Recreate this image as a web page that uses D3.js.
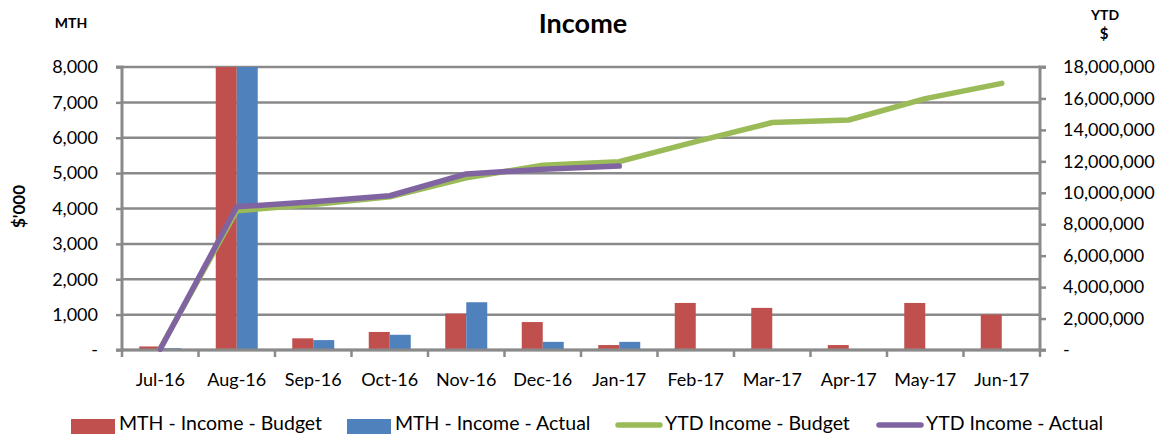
<!DOCTYPE html>
<html>
<head>
<meta charset="utf-8">
<script src="https://cdn.jsdelivr.net/npm/d3@7"></script>
<style>
  body { margin: 0; background: #fff; }
  svg { display: block; font-family: Lato, "Open Sans", sans-serif; }
</style>
</head>
<body>
<div class="svgcontainer"></div>
<script>
// months on the x axis
const months = ["Jul-16", "Aug-16", "Sep-16", "Oct-16", "Nov-16", "Dec-16",
  "Jan-17", "Feb-17", "Mar-17", "Apr-17", "May-17", "Jun-17"];

// monthly income, $'000 (Aug runs off the top of the chart)
const mthBudget = [100, 8760, 330, 510, 1030, 790, 140, 1330, 1190, 140, 1330, 1000];
const mthActual = [50, 9060, 280, 430, 1350, 230, 230, null, null, null, null, null];

// year to date income, $
const ytdBudget = [100000, 8860000, 9250000, 9750000, 10950000, 11750000, 11980000,
  13250000, 14470000, 14630000, 15990000, 16960000];
const ytdActual = [50000, 9110000, 9430000, 9810000, 11200000, 11490000, 11700000];

const leftTicks = [0, 1000, 2000, 3000, 4000, 5000, 6000, 7000, 8000];
const rightTicks = [0, 2000000, 4000000, 6000000, 8000000, 10000000, 12000000,
  14000000, 16000000, 18000000];

const width = 1172, height = 434;
const margin = {top: 67, right: 132, bottom: 84, left: 122};
const innerW = width - margin.left - margin.right;
const innerH = height - margin.top - margin.bottom;

const red = "#C0504D", blue = "#4F81BD", green = "#9BBB59", purple = "#8064A2";
const gridColor = "#8a8a8a";

const svg = d3.select(".svgcontainer")
  .append("svg")
  .attr("width", width)
  .attr("height", height);

const g = svg.append("g").attr("transform", `translate(${margin.left},${margin.top})`);

let x = d3.scaleBand().domain(months).range([0, innerW]).paddingInner(0).paddingOuter(0);
let xSub = d3.scaleBand().domain(["budget", "actual"]).range([0, 42]);
let yL = d3.scaleLinear().domain([0, 8000]).range([innerH, 0]);
let yR = d3.scaleLinear().domain([0, 18000000]).range([innerH, 0]);

// gridlines
g.append("g")
  .selectAll("line")
  .data(leftTicks)
  .join("line")
  .attr("x1", 0)
  .attr("x2", innerW)
  .attr("y1", d => yL(d))
  .attr("y2", d => yL(d))
  .attr("stroke", gridColor)
  .attr("stroke-width", 2.5);

svg.append("clipPath").attr("id", "plotclip")
  .append("rect").attr("width", innerW).attr("height", innerH);

// bars
const bars = g.append("g").attr("clip-path", "url(#plotclip)");
const groupOffset = (x.bandwidth() - 42) / 2;

bars.selectAll("rect.budget")
  .data(months.map((m, i) => ({m, v: mthBudget[i]})))
  .join("rect")
  .attr("class", "budget")
  .attr("x", d => x(d.m) + groupOffset + xSub("budget"))
  .attr("width", xSub.bandwidth())
  .attr("y", d => yL(d.v))
  .attr("height", d => yL(0) - yL(d.v))
  .attr("fill", red);

bars.selectAll("rect.actual")
  .data(months.map((m, i) => ({m, v: mthActual[i]})).filter(d => d.v != null))
  .join("rect")
  .attr("class", "actual")
  .attr("x", d => x(d.m) + groupOffset + xSub("actual"))
  .attr("width", xSub.bandwidth())
  .attr("y", d => yL(d.v))
  .attr("height", d => yL(0) - yL(d.v))
  .attr("fill", blue);

// axes
const fmt = d => d === 0 ? "-" : d3.format(",")(d);

const leftAxis = g.append("g")
  .call(d3.axisLeft(yL).tickValues(leftTicks).tickFormat(fmt).tickSize(6).tickPadding(18));
const rightAxis = g.append("g")
  .attr("transform", `translate(${innerW},0)`)
  .call(d3.axisRight(yR).tickValues(rightTicks).tickFormat(fmt).tickSize(6).tickPadding(17));
const bottomAxis = g.append("g")
  .attr("transform", `translate(0,${innerH})`)
  .call(d3.axisBottom(x).tickSize(0).tickPadding(23));

// ticks at category boundaries
g.append("g")
  .selectAll("line")
  .data(d3.range(months.length + 1))
  .join("line")
  .attr("x1", i => i * x.step())
  .attr("x2", i => i * x.step())
  .attr("y1", innerH)
  .attr("y2", innerH + 7)
  .attr("stroke", gridColor)
  .attr("stroke-width", 2.5);

[leftAxis, rightAxis, bottomAxis].forEach(a => {
  a.selectAll(".domain").attr("stroke", gridColor).attr("stroke-width", 3);
  a.selectAll(".tick line").attr("stroke", gridColor).attr("stroke-width", 2.5);
  a.selectAll("text")
    .attr("fill", "#000")
    .style("font-size", "18px")
    .style("font-family", "Lato, sans-serif");
});
leftAxis.select(".domain").attr("d", `M-6,0H0V${innerH}H-6`);
rightAxis.select(".domain").attr("d", `M6,0H0V${innerH}H6`);
bottomAxis.select(".domain").attr("d", `M0,0H${innerW}`);

// ytd lines
let line = d3.line()
  .x((d, i) => x(months[i]) + x.bandwidth() / 2)
  .y(d => yR(d));

g.append("path")
  .attr("d", line(ytdBudget))
  .attr("fill", "none")
  .attr("stroke", green)
  .attr("stroke-width", 5.5)
  .attr("stroke-linecap", "round")
  .attr("stroke-linejoin", "round");

g.append("path")
  .attr("d", line(ytdActual))
  .attr("fill", "none")
  .attr("stroke", purple)
  .attr("stroke-width", 5.5)
  .attr("stroke-linecap", "round")
  .attr("stroke-linejoin", "round");

// titles
svg.append("text")
  .attr("x", 583).attr("y", 33)
  .attr("text-anchor", "middle")
  .style("font-size", "27px").style("font-weight", "bold")
  .text("Income");

svg.append("text")
  .attr("x", 71).attr("y", 28)
  .attr("text-anchor", "middle")
  .style("font-size", "14px").style("font-weight", "bold")
  .text("MTH");

svg.append("text")
  .attr("x", 1105).attr("y", 20)
  .attr("text-anchor", "middle")
  .style("font-size", "14px").style("font-weight", "bold")
  .text("YTD");
svg.append("text")
  .attr("x", 1104).attr("y", 39)
  .attr("text-anchor", "middle")
  .style("font-size", "15px").style("font-weight", "bold")
  .text("$");

svg.append("text")
  .attr("transform", `translate(25,${margin.top + innerH / 2 - 2}) rotate(-90)`)
  .attr("text-anchor", "middle")
  .style("font-size", "17px").style("font-weight", "bold")
  .text("$'000");

// legend
const legendItems = [
  {label: "MTH - Income - Budget", color: red, type: "bar", x: 71},
  {label: "MTH - Income - Actual", color: blue, type: "bar", x: 347},
  {label: "YTD Income - Budget", color: green, type: "line", x: 616},
  {label: "YTD Income - Actual", color: purple, type: "line", x: 877}
];

const legend = svg.append("g");
const item = legend.selectAll("g")
  .data(legendItems)
  .join("g")
  .attr("transform", d => `translate(${d.x},0)`);

item.filter(d => d.type === "bar")
  .append("rect")
  .attr("x", 0).attr("y", 419)
  .attr("width", 44).attr("height", 16)
  .attr("fill", d => d.color);

item.filter(d => d.type === "line")
  .append("line")
  .attr("x1", 2).attr("x2", 44)
  .attr("y1", 425).attr("y2", 425)
  .attr("stroke", d => d.color)
  .attr("stroke-width", 5.5)
  .attr("stroke-linecap", "round");

item.append("text")
  .attr("x", d => d.type === "bar" ? 48 : 49)
  .attr("y", 430)
  .style("font-size", "19.5px")
  .text(d => d.label);
</script>
</body>
</html>
